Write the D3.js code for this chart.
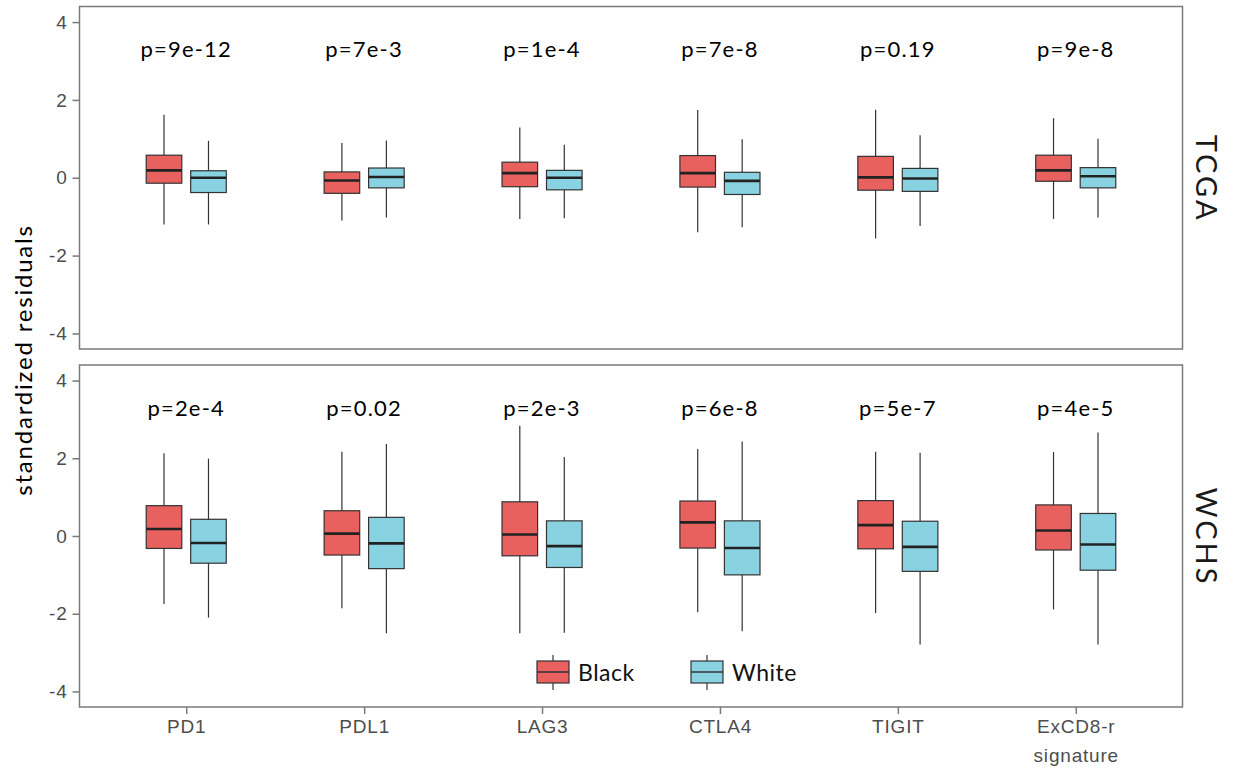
<!DOCTYPE html>
<html>
<head>
<meta charset="utf-8">
<script src="https://cdn.jsdelivr.net/npm/d3@7"></script>
<style>
    body { margin: 0; background: #fff; }
    svg { font-family: Lato, "Open Sans", sans-serif; }
    .tick-label { fill: #4d4d4d; font-size: 19px; letter-spacing: 0.8px; }
    .pval { fill: #000; font-size: 22px; letter-spacing: 1.2px; }
    .strip { fill: #1a1a1a; font-size: 29px; letter-spacing: 3px; }
</style>
</head>
<body>
<svg width="1233" height="773"></svg>
<script>
'use strict';

// categories / groups
let genes = ["PD1", "PDL1", "LAG3", "CTLA4", "TIGIT", "ExCD8-r signature"];
let groups = ["Black", "White"];
let cohorts = ["TCGA", "WCHS"];

// box stats: [lower whisker, q1, median, q3, upper whisker]
let tcgaBlack = [[-1.20, -0.14, 0.19, 0.58, 1.62], [-1.10, -0.40, -0.07, 0.15, 0.89], [-1.06, -0.23, 0.12, 0.40, 1.29],
    [-1.40, -0.24, 0.12, 0.57, 1.74], [-1.56, -0.32, 0.01, 0.55, 1.75], [-1.06, -0.09, 0.19, 0.58, 1.53]];
let tcgaWhite = [[-1.20, -0.38, 0.00, 0.18, 0.95], [-1.02, -0.26, 0.02, 0.25, 0.96], [-1.04, -0.31, 0.00, 0.19, 0.85],
    [-1.27, -0.43, -0.08, 0.14, 0.99], [-1.24, -0.35, -0.02, 0.24, 1.09], [-1.02, -0.26, 0.04, 0.26, 1.00]];
let wchsBlack = [[-1.75, -0.32, 0.18, 0.78, 2.13], [-1.86, -0.49, 0.06, 0.65, 2.17], [-2.50, -0.51, 0.04, 0.88, 2.84],
    [-1.96, -0.31, 0.35, 0.90, 2.24], [-1.98, -0.33, 0.28, 0.91, 2.17], [-1.89, -0.36, 0.14, 0.80, 2.16]];
let wchsWhite = [[-2.10, -0.70, -0.18, 0.43, 1.99], [-2.50, -0.84, -0.19, 0.48, 2.37], [-2.49, -0.81, -0.26, 0.39, 2.03],
    [-2.45, -1.00, -0.31, 0.39, 2.43], [-2.79, -0.91, -0.28, 0.38, 2.14], [-2.79, -0.88, -0.22, 0.58, 2.66]];

let tcgaP = ["p=9e-12", "p=7e-3", "p=1e-4", "p=7e-8", "p=0.19", "p=9e-8"];
let wchsP = ["p=2e-4", "p=0.02", "p=2e-3", "p=6e-8", "p=5e-7", "p=4e-5"];

let yTicks = [-4, -2, 0, 2, 4];

let colors = {"Black": "#e8615f", "White": "#89d2e2"};

let panels = [
    {name: cohorts[0], black: tcgaBlack, white: tcgaWhite, p: tcgaP, top: 6.5, bottom: 349},
    {name: cohorts[1], black: wchsBlack, white: wchsWhite, p: wchsP, top: 365, bottom: 707}
];

let svg = d3.select("svg");
let left = 79.5, right = 1182.5;

let x = d3.scalePoint().domain(genes).range([left, right]).padding(0.6);
let step = x.step();
let offset = d3.scaleOrdinal().domain(groups).range([-0.125 * step, 0.125 * step]);
let boxW = 0.2 * step;

panels.forEach(function (p) {
    let y = d3.scaleLinear().domain([-4.4, 4.4]).range([p.bottom, p.top]);
    let g = svg.append("g");

    g.append("rect")
        .attr("x", left).attr("y", p.top)
        .attr("width", right - left).attr("height", p.bottom - p.top)
        .attr("fill", "none").attr("stroke", "#7a7a7a").attr("stroke-width", 1.5);

    // y axis, plain hyphen for negatives like the original
    let yAxis = g.append("g")
        .attr("transform", "translate(" + left + ",0)")
        .call(d3.axisLeft(y).tickValues(yTicks).tickFormat(function (d) { return String(d); })
            .tickSize(7).tickPadding(5));
    yAxis.select(".domain").remove();
    yAxis.selectAll(".tick line").attr("stroke", "#7a7a7a").attr("stroke-width", 1.5);
    yAxis.selectAll(".tick text").attr("class", "tick-label").attr("font-family", null).attr("font-size", null);

    let rows = [];
    genes.forEach(function (gene, i) {
        rows.push({gene: gene, group: "Black", s: p.black[i]});
        rows.push({gene: gene, group: "White", s: p.white[i]});
    });

    let box = g.selectAll(".box").data(rows).enter().append("g")
        .attr("class", "box")
        .attr("transform", function (d) {
            return "translate(" + (x(d.gene) + offset(d.group)) + ",0)";
        });

    box.append("line")
        .attr("y1", function (d) { return y(d.s[0]); })
        .attr("y2", function (d) { return y(d.s[4]); })
        .attr("stroke", "#333").attr("stroke-width", 1.2);

    box.append("rect")
        .attr("x", -boxW / 2).attr("width", boxW)
        .attr("y", function (d) { return y(d.s[3]); })
        .attr("height", function (d) { return y(d.s[1]) - y(d.s[3]); })
        .attr("fill", function (d) { return colors[d.group]; })
        .attr("stroke", "#333").attr("stroke-width", 1.2);

    box.append("line")
        .attr("x1", -boxW / 2).attr("x2", boxW / 2)
        .attr("y1", function (d) { return y(d.s[2]); })
        .attr("y2", function (d) { return y(d.s[2]); })
        .attr("stroke", "#222").attr("stroke-width", 2.6);

    g.selectAll(".pval").data(p.p).enter().append("text")
        .attr("class", "pval")
        .attr("x", function (d, i) { return x(genes[i]); })
        .attr("y", y(3.1))
        .attr("text-anchor", "middle")
        .text(function (d) { return d; });

    let cy = (p.top + p.bottom) / 2;
    g.append("text")
        .attr("class", "strip")
        .attr("transform", "translate(1196," + (cy + 1) + ") rotate(90)")
        .attr("text-anchor", "middle")
        .text(p.name);
});

// x axis under the lower panel
let bottomY = panels[1].bottom;
let xAxis = svg.append("g")
    .attr("transform", "translate(0," + bottomY + ")")
    .call(d3.axisBottom(x).tickSize(7).tickPadding(6));
xAxis.select(".domain").remove();
xAxis.selectAll(".tick line").attr("stroke", "#7a7a7a").attr("stroke-width", 1.5);
xAxis.selectAll(".tick text").attr("class", "tick-label").attr("font-family", null).attr("font-size", null)
    .each(function (d) {
        let t = d3.select(this), words = d.split(" ");
        t.text(null);
        words.forEach(function (w, i) {
            t.append("tspan").attr("x", 0).attr("dy", i === 0 ? "0.71em" : "1.5em").text(w);
        });
    });

// y title
svg.append("text")
    .attr("transform", "translate(32,360) rotate(-90)")
    .attr("text-anchor", "middle")
    .attr("font-size", 24)
    .attr("letter-spacing", "1.8px")
    .attr("fill", "#000")
    .text("standardized residuals");

// legend
let legend = svg.append("g").attr("transform", "translate(537,661)");
let item = legend.selectAll(".item").data(groups).enter().append("g")
    .attr("class", "item")
    .attr("transform", function (d, i) { return "translate(" + (i * 154) + ",0)"; });
item.append("line").attr("x1", 16).attr("x2", 16).attr("y1", -6).attr("y2", 29)
    .attr("stroke", "#333").attr("stroke-width", 1.2);
item.append("rect").attr("width", 32).attr("height", 22)
    .attr("fill", function (d) { return colors[d]; })
    .attr("stroke", "#333").attr("stroke-width", 1.2);
item.append("line").attr("x1", 0).attr("x2", 32).attr("y1", 11).attr("y2", 11)
    .attr("stroke", "#333").attr("stroke-width", 1.5);
item.append("text").attr("x", 41).attr("y", 20)
    .attr("font-size", 23).attr("letter-spacing", "0.5px").attr("fill", "#111")
    .text(function (d) { return d; });
</script>
</body>
</html>
